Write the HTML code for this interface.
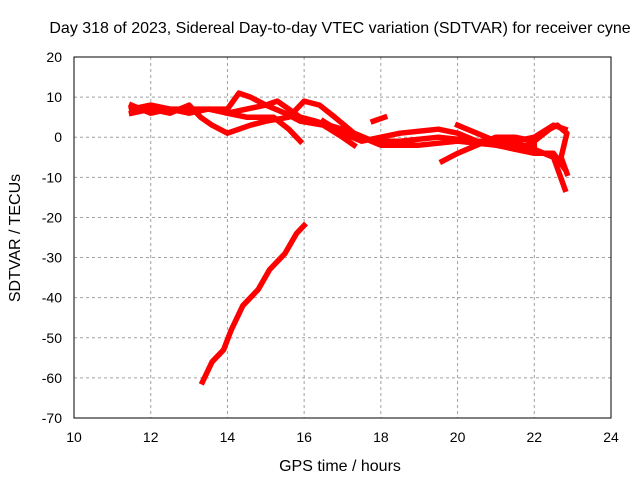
<!DOCTYPE html>
<html><head><meta charset="utf-8"><style>
body{margin:0;background:#fff}
svg{display:block;font-family:"Liberation Sans",sans-serif;font-size:14px}
.t{font-size:16px}
</style></head><body>
<svg id="chart" width="640" height="480">
<text class="t" x="340" y="33" text-anchor="middle">Day 318 of 2023, Sidereal Day-to-day VTEC variation (SDTVAR) for receiver cyne</text>
<text class="t" x="340" y="471" text-anchor="middle">GPS time / hours</text>
<text class="t" transform="translate(20,238) rotate(-90)" text-anchor="middle">SDTVAR / TECUs</text>
<g id="grid"></g><g id="ticks"></g><g id="marks"></g>
<rect x="74" y="57" width="537" height="361" fill="none" stroke="#000"/>
</svg>
<script>
const xTicks=[10,12,14,16,18,20,22,24];
const yTicks=[20,10,0,-10,-20,-30,-40,-50,-60,-70];
const s1x=[13.35,13.6,13.9,14.1,14.4,14.8,15.1,15.5,15.8,16];
const s1y=[-61,-56,-53,-48,-42,-38,-33,-29,-24,-22];
const s2x=[11.5,12,12.5,13,13.5,14,14.3,14.6,15,15.5,15.9,16.5,17,17.3];
const s2y=[7,8,7,7,7,7,11,10,8,6,4,3,0,-2];
const s3x=[11.5,12,12.5,13,13.3,13.6,14,14.3,14.6,15,15.6,16,16.4,16.8,17.3,17.8,18.5,19.5,20.5,21.5,22,22.5,22.8];
const s3y=[6,7,6,8,5,3,1,2,3,4,5,9,8,5,1,-1,-1,0,-1,-1,0,3,2];
const s4x=[11.5,12,12.5,13,13.5,14,14.5,15,15.3,15.6,15.9,16.3,17,17.5,18,19,20,21,22,22.5,22.8];
const s4y=[8,6,7,6,7,6,7,8,9,7,5,4,2,0,-2,-2,-1,-2,-3,-5,-13];
const s5x=[14,14.5,15.2,15.6,15.9];
const s5y=[6,5,5,2,-1];
const s6x=[16.5,17,17.5,18,18.5,19.5,20,20.5,21,21.5,22,22.5,22.8];
const s6y=[4,1,-1,0,1,2,1,-1,-2,-3,-4,-4,-8];
const s7x=[17.8,18.1];
const s7y=[4,5];
const s8x=[19.6,20,20.5,21,21.5,22,22.4,22.6,22.85,22.7,22.85];
const s8y=[-6,-4,-2,0,0,-1,2,3,1,-5,-9];
const s9x=[20,20.5,21,21.5,22];
const s9y=[3,1,-1,-2,-2];
const seriesX=[s1x,s2x,s3x,s4x,s5x,s6x,s7x,s8x,s9x];
const seriesY=[s1y,s2y,s3y,s4y,s5y,s6y,s7y,s8y,s9y];
const NS="http://www.w3.org/2000/svg";
function X(v){return 74+(v-10)*537/14;}
function Y(v){return 57+(20-v)*361/90;}
function mk(t,a,p){const e=document.createElementNS(NS,t);for(const k in a)e.setAttribute(k,a[k]);p.appendChild(e);return e;}
const grid=document.getElementById('grid'),ticks=document.getElementById('ticks'),marks=document.getElementById('marks');
xTicks.forEach(v=>{const x=X(v);
 if(v>10&&v<24){const g=mk('line',{x1:x,x2:x,y1:57,y2:418,stroke:'#a0a0a0','stroke-dasharray':'3,3'},grid);
 
 }
 const t=mk('text',{x:x,y:442,'text-anchor':'middle'},ticks);t.textContent=v;
 
 
});
yTicks.forEach(v=>{const y=Y(v);
 if(v<20&&v>-70){const g=mk('line',{x1:74,x2:611,y1:y,y2:y,stroke:'#a0a0a0','stroke-dasharray':'3,3'},grid);
 
 }
 const t=mk('text',{x:62,y:y+5,'text-anchor':'end'},ticks);t.textContent=v;
 
 
});
seriesX.forEach((xs,i)=>{const ys=seriesY[i];
 const pts=xs.map((x,j)=>X(x).toFixed(1)+','+Y(ys[j]).toFixed(1)).join(' ');
 const p=mk('polyline',{points:pts,fill:'none',stroke:'#ff0000','stroke-width':5.5,'stroke-linejoin':'round','stroke-linecap':'square'},marks);
 
 
});
</script>
</body></html>
